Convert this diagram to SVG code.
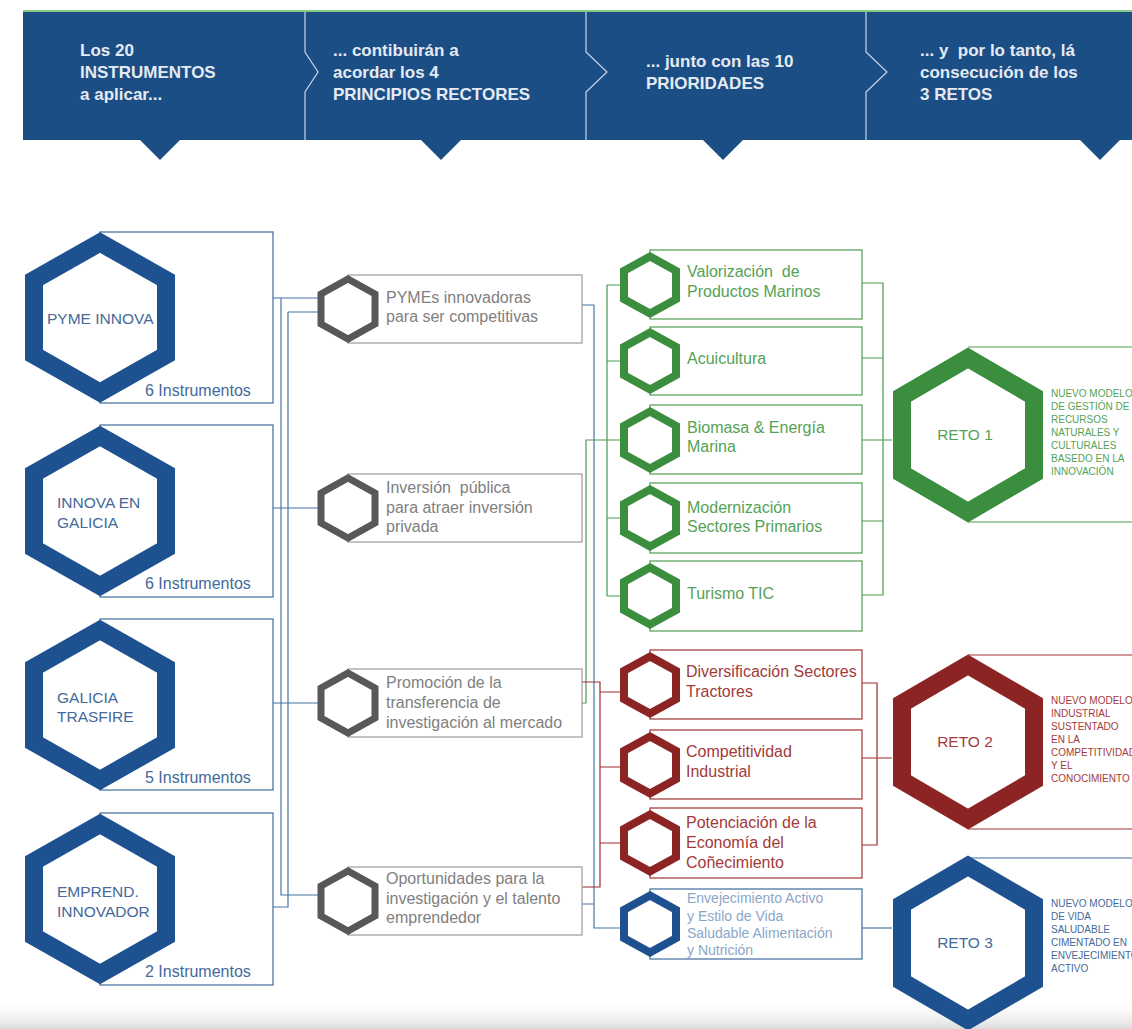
<svg xmlns="http://www.w3.org/2000/svg" xmlns:xlink="http://www.w3.org/1999/xlink" width="1132" height="1029" viewBox="0 0 1132 1029">
<defs>
<style>
text{font-family:"Liberation Sans",Arial,Helvetica,sans-serif}
.ht{font-size:17px;font-weight:bold;fill:#e4eaf2}
.hb{fill:#fff;stroke:#1d5190;stroke-width:18}
.hgy{fill:#fff;stroke:#585858;stroke-width:7}
.hgr{fill:#fff;stroke:#3b8e3e;stroke-width:8}
.hrd{fill:#fff;stroke:#8c2424;stroke-width:8}
.hbl{fill:#fff;stroke:#1d5190;stroke-width:8}
.rgr{fill:#fff;stroke:#3b8e3e;stroke-width:18}
.rrd{fill:#fff;stroke:#8c2424;stroke-width:18}
.rbl{fill:#fff;stroke:#1d5190;stroke-width:18}
.bb{fill:none;stroke:#3e6b9d;stroke-width:1.2}
.bg{fill:none;stroke:#9c9c9c;stroke-width:1.2}
.bgr{fill:none;stroke:#4f9f50;stroke-width:1.2}
.brd{fill:none;stroke:#a03434;stroke-width:1.2}
.tb{font-size:15.5px;fill:#44699a}
.ti{font-size:16px;fill:#44699a}
.tg{font-size:16px;fill:#808080}
.tgr{font-size:16px;fill:#55a256}
.trd{font-size:16px;fill:#a33a3a}
.tbl{font-size:14px;fill:#8ba6c8}
.rl{font-size:15.5px;text-anchor:middle}
.rd{font-size:10px}
.cb{fill:none;stroke:#4775a8;stroke-width:1.2}
.cg{fill:none;stroke:#4a9a4c;stroke-width:1.2}
.cr{fill:none;stroke:#9b2c2c;stroke-width:1.2}
.pre{white-space:pre}
</style>
<path id="hexL" d="M0,-75 L66,-37.5 L66,37.5 L0,75 L-66,37.5 L-66,-37.5 Z"/>
<path id="hexR" d="M0,-77 L66,-38.5 L66,38.5 L0,77 L-66,38.5 L-66,-38.5 Z"/>
<path id="hexM" d="M0,-30 L27,-15 L27,15 L0,30 L-27,15 L-27,-15 Z"/>
<path id="hexP" d="M0,-28.5 L26,-14.25 L26,14.25 L0,28.5 L-26,14.25 L-26,-14.25 Z"/>
<linearGradient id="shade" x1="0" y1="0" x2="0" y2="1">
<stop offset="0" stop-color="#ffffff" stop-opacity="0"/>
<stop offset="1" stop-color="#dcdcdc" stop-opacity="1"/>
</linearGradient>
</defs>
<rect width="1132" height="1029" fill="#ffffff"/>
<rect x="0" y="998" width="1132" height="31" fill="url(#shade)"/>

<g id="header">
<line x1="23" y1="11" x2="1132" y2="11" stroke="#5cb85c" stroke-width="1.5"/>
<rect x="23" y="12" width="1109" height="128" fill="#1c4e86"/>
<polygon points="140,140 180,140 160,160" fill="#1c4e86"/>
<polygon points="421,140 461,140 441,160" fill="#1c4e86"/>
<polygon points="703,140 743,140 723,160" fill="#1c4e86"/>
<polygon points="1080,140 1120,140 1100,160" fill="#1c4e86"/>
<path d="M305,12 V52 L318,72 L305,92 V140 M586,12 V52 L607,72 L586,92 V140 M866,12 V52 L887,72 L866,92 V140" fill="none" stroke="#c9d4e2" stroke-width="1.2"/>
<text class="ht" x="80" y="56">Los 20</text>
<text class="ht" x="80" y="78">INSTRUMENTOS</text>
<text class="ht" x="80" y="100">a aplicar...</text>
<text class="ht" x="333" y="56">... contibuirán a</text>
<text class="ht" x="333" y="78">acordar los 4</text>
<text class="ht" x="333" y="100">PRINCIPIOS RECTORES</text>
<text class="ht" x="646" y="67">... junto con las 10</text>
<text class="ht" x="646" y="89">PRIORIDADES</text>
<text class="ht pre" x="920" y="56">... y  por lo tanto, lá</text>
<text class="ht" x="920" y="78">consecución de los</text>
<text class="ht" x="920" y="100">3 RETOS</text>
</g>

<g id="connectors">
<path class="cb" d="M273,298 H320 M281,298 V895 H320 M288,312 H320 M288,312 V907 H273 M273,508 H320 M273,703 H320"/>
<path class="cb" d="M582,305 H594 V928 H620 M582,904 H594"/>
<path class="cg" d="M582,703 H586 V440 H620 M607,285 V596 M607,285 H620 M607,361 H620 M607,518 H620 M607,596 H620"/>
<path class="cg" d="M862,283 H883 V595 H862 M862,358 H883 M862,440 H892 M862,521 H883"/>
<path class="cr" d="M582,682 H600 V887 H582 M600,692 H620 M600,767 H620 M600,843 H620"/>
<path class="cr" d="M862,683 H877 V845 H862 M862,758 H892"/>
<path class="cb" d="M862,928 H892"/>
</g>

<g id="pyme-innova">
<rect class="bb" x="100" y="232" width="173" height="171"/>
<use href="#hexL" class="hb" x="100" y="317.5"/>
<text class="tb" x="47" y="324">PYME INNOVA</text>
<text class="ti" x="145" y="396">6 Instrumentos</text>
</g>
<g id="innova-galicia">
<rect class="bb" x="100" y="425" width="173" height="172"/>
<use href="#hexL" class="hb" x="100" y="511"/>
<text class="tb" x="57" y="508">INNOVA EN</text>
<text class="tb" x="57" y="528">GALICIA</text>
<text class="ti" x="145" y="589">6 Instrumentos</text>
</g>
<g id="galicia-trasfire">
<rect class="bb" x="100" y="619" width="173" height="171"/>
<use href="#hexL" class="hb" x="100" y="705"/>
<text class="tb" x="57" y="703">GALICIA</text>
<text class="tb" x="57" y="722">TRASFIRE</text>
<text class="ti" x="145" y="783">5 Instrumentos</text>
</g>
<g id="emprend-innovador">
<rect class="bb" x="100" y="813" width="173" height="172"/>
<use href="#hexL" class="hb" x="100" y="899"/>
<text class="tb" x="57" y="897">EMPREND.</text>
<text class="tb" x="57" y="917">INNOVADOR</text>
<text class="ti" x="145" y="977">2 Instrumentos</text>
</g>

<g id="pymes-innovadoras">
<rect class="bg" x="348" y="275" width="234" height="68"/>
<use href="#hexM" class="hgy" x="348" y="309"/>
<text class="tg" x="386" y="303">PYMEs innovadoras</text>
<text class="tg" x="386" y="322">para ser competitivas</text>
</g>
<g id="inversion-publica">
<rect class="bg" x="348" y="474" width="234" height="68"/>
<use href="#hexM" class="hgy" x="348" y="508"/>
<text class="tg pre" x="386" y="493">Inversión  pública</text>
<text class="tg" x="386" y="513">para atraer inversión</text>
<text class="tg" x="386" y="532">privada</text>
</g>
<g id="promocion-transferencia">
<rect class="bg" x="348" y="669" width="234" height="68"/>
<use href="#hexM" class="hgy" x="348" y="703"/>
<text class="tg" x="386" y="688">Promoción de la</text>
<text class="tg" x="386" y="708">transferencia de</text>
<text class="tg" x="386" y="728">investigación al mercado</text>
</g>
<g id="oportunidades-talento">
<rect class="bg" x="348" y="867" width="234" height="68"/>
<use href="#hexM" class="hgy" x="348" y="901"/>
<text class="tg" x="386" y="884">Oportunidades para la</text>
<text class="tg" x="386" y="904">investigación y el talento</text>
<text class="tg" x="386" y="923">emprendedor</text>
</g>

<g id="valorizacion">
<rect class="bgr" x="650" y="250" width="212" height="69"/>
<use href="#hexP" class="hgr" x="650" y="285"/>
<text class="tgr pre" x="687" y="277">Valorización  de</text>
<text class="tgr" x="687" y="297">Productos Marinos</text>
</g>
<g id="acuicultura">
<rect class="bgr" x="650" y="327" width="212" height="68"/>
<use href="#hexP" class="hgr" x="650" y="361"/>
<text class="tgr" x="687" y="364">Acuicultura</text>
</g>
<g id="biomasa">
<rect class="bgr" x="650" y="405" width="212" height="69"/>
<use href="#hexP" class="hgr" x="650" y="440"/>
<text class="tgr" x="687" y="433">Biomasa &amp; Energía</text>
<text class="tgr" x="687" y="452">Marina</text>
</g>
<g id="modernizacion">
<rect class="bgr" x="650" y="483" width="212" height="70"/>
<use href="#hexP" class="hgr" x="650" y="518"/>
<text class="tgr" x="687" y="513">Modernización</text>
<text class="tgr" x="687" y="532">Sectores Primarios</text>
</g>
<g id="turismo">
<rect class="bgr" x="650" y="561" width="212" height="70"/>
<use href="#hexP" class="hgr" x="650" y="596"/>
<text class="tgr" x="687" y="599">Turismo TIC</text>
</g>
<g id="diversificacion">
<rect class="brd" x="650" y="650" width="212" height="69"/>
<use href="#hexP" class="hrd" x="650" y="685"/>
<text class="trd" x="686" y="677">Diversificación Sectores</text>
<text class="trd" x="686" y="697">Tractores</text>
</g>
<g id="competitividad">
<rect class="brd" x="650" y="730" width="212" height="69"/>
<use href="#hexP" class="hrd" x="650" y="765"/>
<text class="trd" x="686" y="757">Competitividad</text>
<text class="trd" x="686" y="777">Industrial</text>
</g>
<g id="potenciacion">
<rect class="brd" x="650" y="808" width="212" height="70"/>
<use href="#hexP" class="hrd" x="650" y="843"/>
<text class="trd" x="686" y="828">Potenciación de la</text>
<text class="trd" x="686" y="848">Economía del</text>
<text class="trd" x="686" y="868">Coñecimiento</text>
</g>
<g id="envejecimiento">
<rect class="bb" x="650" y="889" width="212" height="70"/>
<use href="#hexP" class="hbl" x="650" y="924"/>
<text class="tbl" x="687" y="903">Envejecimiento Activo</text>
<text class="tbl" x="687" y="921">y Estilo de Vida</text>
<text class="tbl" x="687" y="938">Saludable Alimentación</text>
<text class="tbl" x="687" y="955">y Nutrición</text>
</g>

<g id="reto-1">
<path class="bgr" d="M968,347 H1140 M968,522 H1140"/>
<use href="#hexR" class="rgr" x="968" y="435"/>
<text class="rl" x="965" y="440" fill="#55a256">RETO 1</text>
<text class="rd" fill="#55a256"><tspan x="1051" y="397">NUEVO MODELO</tspan><tspan x="1051" y="410">DE GESTIÓN DE</tspan><tspan x="1051" y="423">RECURSOS</tspan><tspan x="1051" y="436">NATURALES Y</tspan><tspan x="1051" y="449">CULTURALES</tspan><tspan x="1051" y="462">BASEDO EN LA</tspan><tspan x="1051" y="475">INNOVACIÓN</tspan></text>
</g>
<g id="reto-2">
<path class="brd" d="M968,655 H1140 M968,829 H1140"/>
<use href="#hexR" class="rrd" x="968" y="742"/>
<text class="rl" x="965" y="747" fill="#a33a3a">RETO 2</text>
<text class="rd" fill="#a33a3a"><tspan x="1051" y="704">NUEVO MODELO</tspan><tspan x="1051" y="717">INDUSTRIAL</tspan><tspan x="1051" y="730">SUSTENTADO</tspan><tspan x="1051" y="743">EN LA</tspan><tspan x="1051" y="756">COMPETITIVIDAD</tspan><tspan x="1051" y="769">Y EL</tspan><tspan x="1051" y="782">CONOCIMIENTO</tspan></text>
</g>
<g id="reto-3">
<path class="bb" d="M968,858 H1140"/>
<use href="#hexR" class="rbl" x="968" y="943"/>
<text class="rl" x="965" y="948" fill="#44699a">RETO 3</text>
<text class="rd" fill="#44699a"><tspan x="1051" y="907">NUEVO MODELO</tspan><tspan x="1051" y="920">DE VIDA</tspan><tspan x="1051" y="933">SALUDABLE</tspan><tspan x="1051" y="946">CIMENTADO EN</tspan><tspan x="1051" y="959">ENVEJECIMIENTO</tspan><tspan x="1051" y="972">ACTIVO</tspan></text>
</g>
</svg>
